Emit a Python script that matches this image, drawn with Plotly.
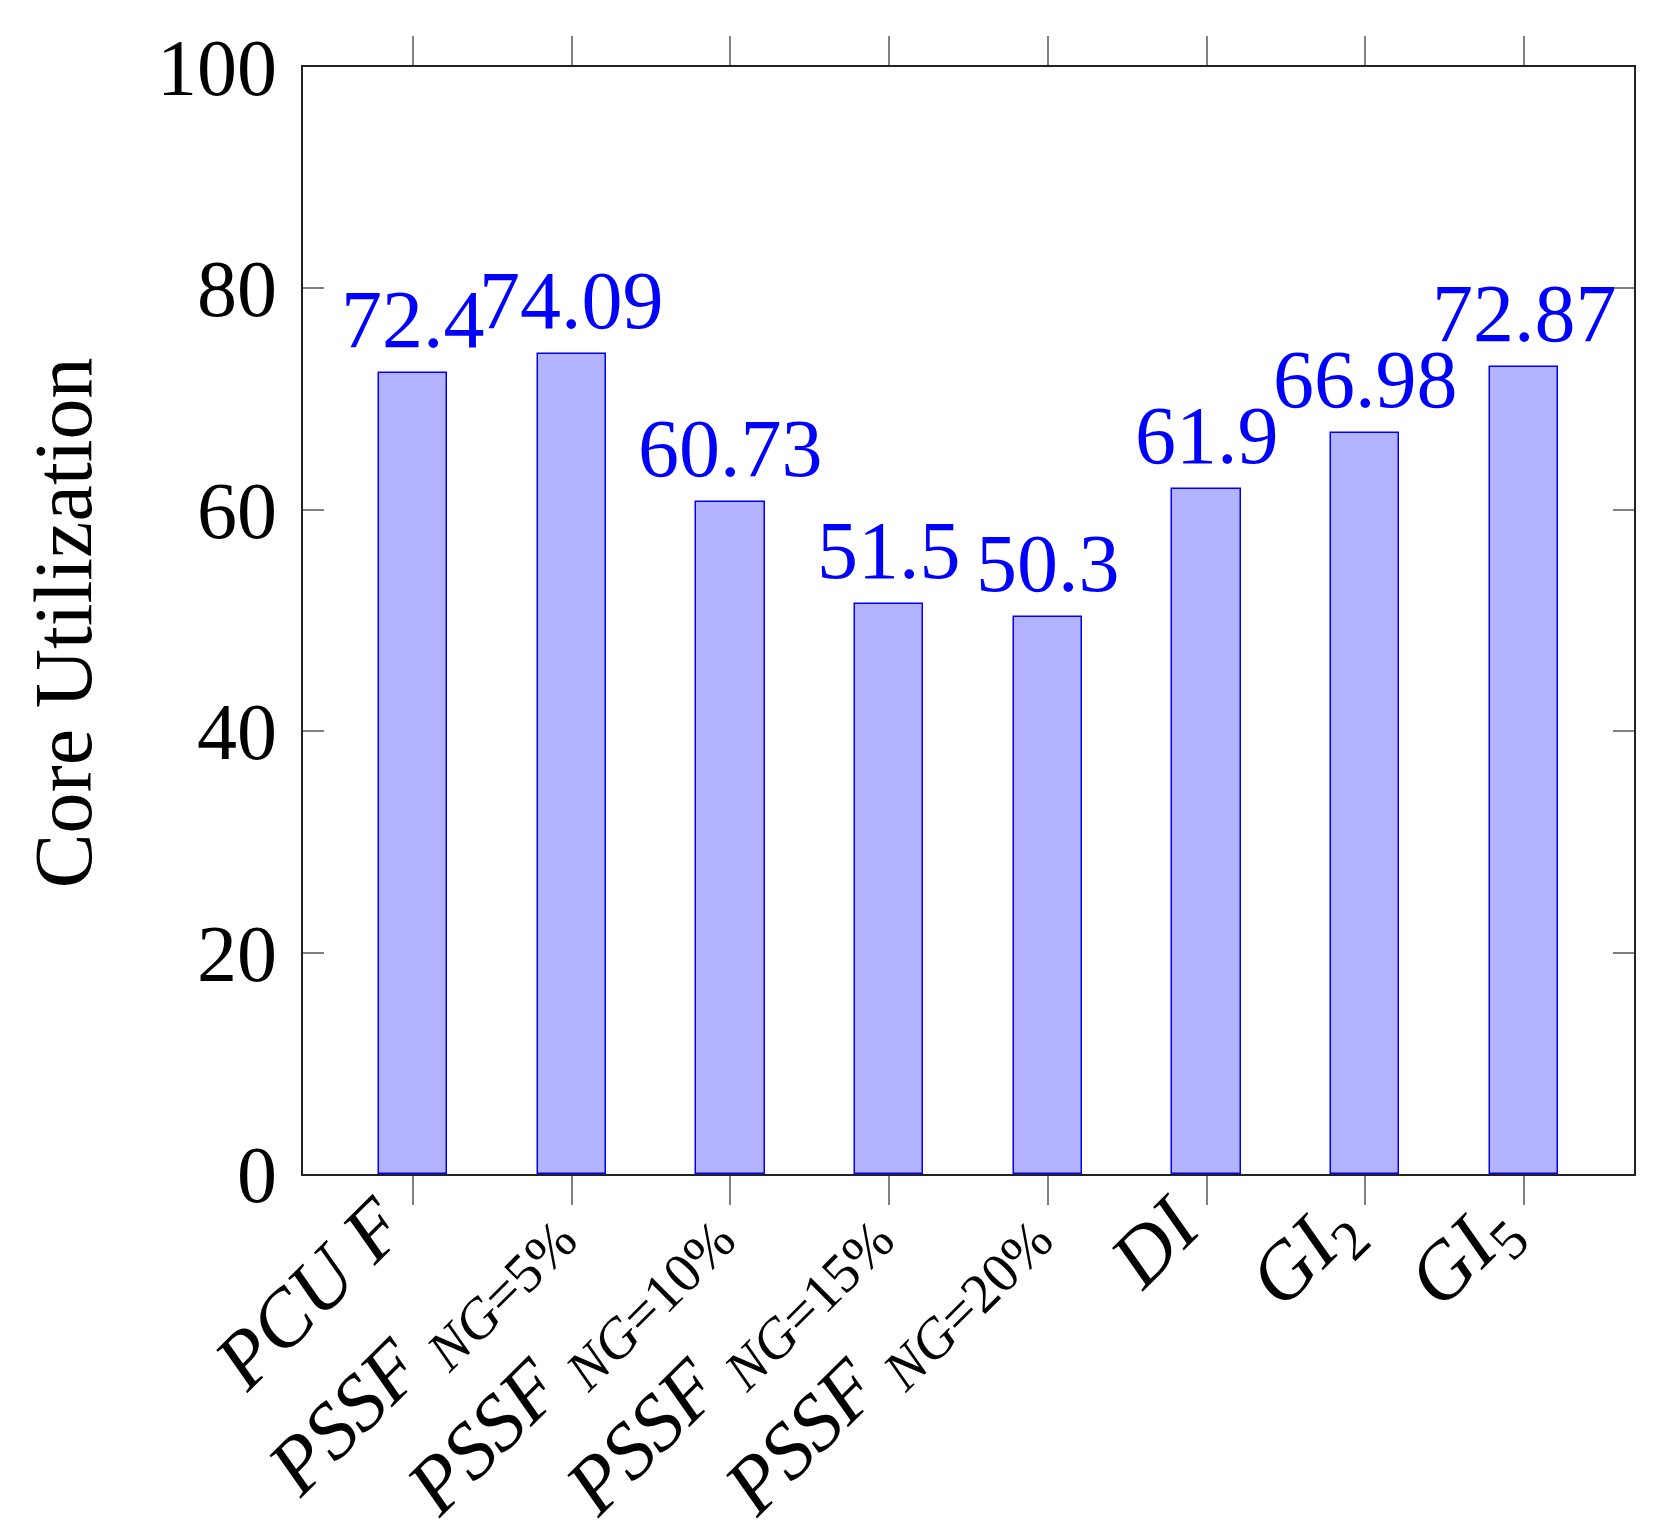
import plotly.graph_objects as go

categories = [
    "<i>PCU F</i>",
    "<i>PSSF</i>\u2009<sub><i>NG</i>=5%</sub>",
    "<i>PSSF</i>\u2009<sub><i>NG</i>=10%</sub>",
    "<i>PSSF</i>\u2009<sub><i>NG</i>=15%</sub>",
    "<i>PSSF</i>\u2009<sub><i>NG</i>=20%</sub>",
    "<i>DI</i>",
    "<i>GI</i><sub>2</sub>",
    "<i>GI</i><sub>5</sub>",
]
values = [72.4, 74.09, 60.73, 51.5, 50.3, 61.9, 66.98, 72.87]
value_labels = ["72.4", "74.09", "60.73", "51.5", "50.3", "61.9", "66.98", "72.87"]
y_ticks = [0, 20, 40, 60, 80, 100]
y_title = "Core Utilization"

FONT = "Liberation Serif"
x_pos = list(range(len(categories)))

fig = go.Figure()
fig.add_trace(go.Bar(
    x=x_pos,
    y=values,
    width=0.43,
    marker=dict(color="#b3b3ff", line=dict(color="#0000ff", width=1.5)),
    showlegend=False,
))

value_annotations = [
    dict(
        x=xi, y=v, xref="x", yref="y",
        text=lbl, showarrow=False,
        xanchor="center", yanchor="bottom", yshift=6,
        font=dict(family=FONT, size=82, color="#0000ff"),
    )
    for xi, v, lbl in zip(x_pos, values, value_labels)
]

fig.update_layout(
    width=1656,
    height=1525,
    autosize=False,
    margin=dict(l=295, r=30, t=59, b=359),
    plot_bgcolor="white",
    paper_bgcolor="white",
    font=dict(family=FONT, color="black"),
    bargap=0,
    annotations=value_annotations + [dict(
        text=y_title,
        xref="paper", yref="paper",
        x=-0.180, y=0.498,
        xanchor="center", yanchor="middle",
        textangle=-90,
        showarrow=False,
        font=dict(family=FONT, size=82, color="black"),
    )],
)

fig.update_xaxes(
    range=[-0.693, 7.693],
    tickmode="array",
    tickvals=x_pos,
    ticktext=categories,
    tickangle=-45,
    ticks="outside",
    ticklen=29,
    tickwidth=1.5,
    tickcolor="#808080",
    showline=True,
    linecolor="#222222",
    linewidth=2,
    mirror="ticks",
    showgrid=False,
    zeroline=False,
    tickfont=dict(family=FONT, size=80, color="black"),
    ticklabelstandoff=-58,
    ticklabelshift=-32,
    automargin=False,
)

fig.update_yaxes(
    range=[0, 100],
    tickmode="array",
    tickvals=y_ticks,
    ticktext=[str(v) for v in y_ticks],
    ticks="inside",
    ticklen=21,
    tickwidth=1.5,
    tickcolor="#808080",
    showline=True,
    linecolor="#222222",
    linewidth=2,
    mirror="ticks",
    showgrid=False,
    zeroline=False,
    tickfont=dict(family=FONT, size=80, color="black"),
    ticklabelstandoff=8,
    automargin=False,
)

fig.write_html("out.html")
